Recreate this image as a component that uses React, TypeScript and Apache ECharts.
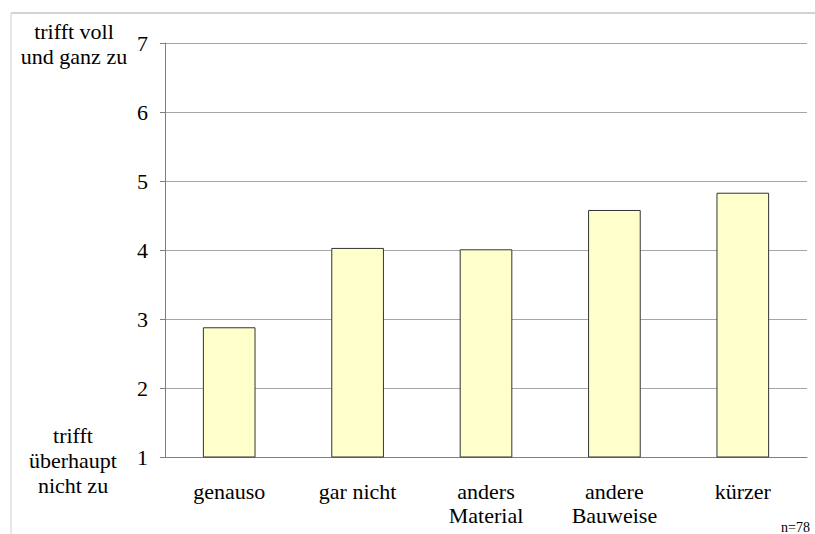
import React, { useEffect, useRef } from "react";
import * as echarts from "echarts";

const categories = ["genauso", "gar nicht", "anders\nMaterial", "andere\nBauweise", "kürzer"];
const values = [2.88, 4.03, 4.01, 4.58, 4.83];
const yTicks = [1, 2, 3, 4, 5, 6, 7];
const topLabel = "trifft voll\nund ganz zu";
const bottomLabel = "trifft\nüberhaupt\nnicht zu";
const note = "n=78";

const FONT = "Liberation Serif, Times New Roman, serif";

export default function App() {
  const ref = useRef<HTMLDivElement>(null);
  useEffect(() => {
    if (!ref.current) return;
    const chart = echarts.init(ref.current, undefined, { renderer: "svg" });
    chart.setOption({
      animation: false,
      backgroundColor: "#ffffff",
      textStyle: { fontFamily: FONT },
      grid: { left: 165, right: 8, top: 43, bottom: 77, containLabel: false },
      xAxis: {
        type: "category",
        data: categories,
        axisLine: { lineStyle: { color: "#808080", width: 1 } },
        axisTick: { show: false },
        axisLabel: {
          color: "#000",
          fontFamily: FONT,
          fontSize: 22,
          lineHeight: 24,
          margin: 22,
          interval: 0,
        },
      },
      yAxis: {
        type: "value",
        min: yTicks[0],
        max: yTicks[yTicks.length - 1],
        interval: 1,
        axisLine: { show: true, lineStyle: { color: "#808080", width: 1 } },
        axisTick: { show: true, length: 5, lineStyle: { color: "#808080" } },
        splitLine: { lineStyle: { color: "#a6a6a6", width: 1 } },
        axisLabel: { color: "#000", fontFamily: FONT, fontSize: 22, margin: 17 },
      },
      series: [
        {
          type: "bar",
          data: values,
          barWidth: "41%",
          itemStyle: { color: "#FFFFCC", borderColor: "#333333", borderWidth: 1 },
        },
      ],
      graphic: [
        { type: "line", shape: { x1: 11, y1: 13, x2: 815, y2: 13 }, style: { stroke: "#a6a6a6", lineWidth: 1 } },
        { type: "line", shape: { x1: 11, y1: 13, x2: 11, y2: 534 }, style: { stroke: "#d0d0d0", lineWidth: 1 } },
        {
          type: "text",
          x: 74,
          y: 44,
          style: {
            text: topLabel,
            fontFamily: FONT,
            fontSize: 22,
            lineHeight: 25,
            fill: "#000",
            align: "center",
            verticalAlign: "middle",
          },
        },
        {
          type: "text",
          x: 73,
          y: 460,
          style: {
            text: bottomLabel,
            fontFamily: FONT,
            fontSize: 22,
            lineHeight: 25,
            fill: "#000",
            align: "center",
            verticalAlign: "middle",
          },
        },
        {
          type: "text",
          x: 781,
          y: 527,
          style: {
            text: note,
            fontFamily: FONT,
            fontSize: 14,
            fill: "#000",
            align: "left",
            verticalAlign: "middle",
          },
        },
      ],
    });
    return () => chart.dispose();
  }, []);
  return (
    <div
      ref={ref}
      style={{ position: "fixed", left: 0, top: 0, width: 815, height: 534 }}
    />
  );
}
